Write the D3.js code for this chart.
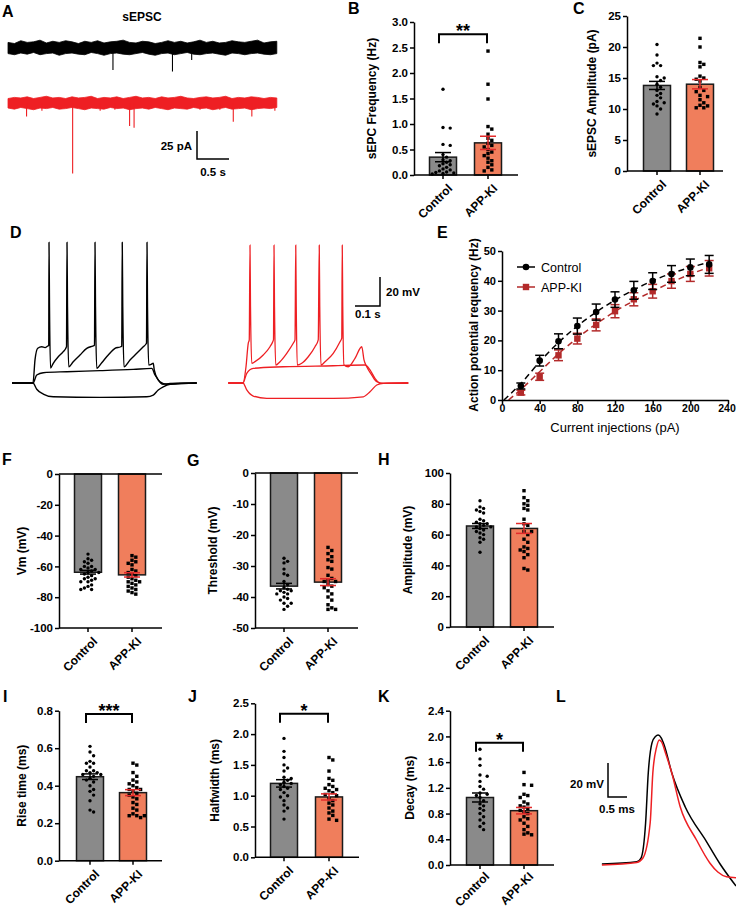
<!DOCTYPE html>
<html><head><meta charset="utf-8">
<script src="https://cdn.jsdelivr.net/npm/d3@7"></script>
<style>
body{margin:0;background:#fff}
svg{display:block}
text{font-family:"Liberation Sans",Arial,Helvetica,sans-serif}
</style>
</head><body>
<svg id="c" width="736" height="908"></svg>
<script>
// ---------------- DATA ----------------
const categories = ["Control", "APP-KI"];

// A: sEPSC traces (time s, current pA) - noise envelope and events
const traceTimes = [0,0.1,0.2,0.3,0.4,0.5,0.6,0.7,0.8,0.9,1.0,1.1,1.2,1.3,1.4,1.5,1.6,1.7,1.8,1.9,2.0,2.1,2.2,2.3,2.4,2.5,2.6,2.7,2.8,2.9,3.0,3.1,3.2,3.3,3.4,3.5,3.6,3.7,3.8,3.9,4.0,4.1,4.2];
const blackTop = [5,4,6.5,5,5.5,7,4.5,6,5,6.5, 5.5,4,6,5,6.5,4.5,5.5,6,7,5, 4.5,6,5.5,4,5,6.5,5,6,4.5,5.5, 7,5,6,4.5,5,6.5,5.5,5,6,7, 4.5,5.5,6];
const blackBot = [-5,-6,-4.5,-5.5,-4,-6,-5,-4.5,-6.5,-5, -4.5,-5.5,-6,-4,-5,-6.5,-5,-4.5,-5.5,-6, -5,-4,-5.5,-6.5,-5,-4.5,-6,-5,-4,-5.5, -6,-5,-4.5,-5.5,-6.5,-4.5,-5,-6,-5,-4.5, -5.5,-6,-5];
const redTop = [4,5,4.5,5.5,4,5,6,4.5,5,4, 5.5,4.5,5,6,4,5,4.5,5.5,4,5, 6,4.5,5,4,5.5,4.5,5,6,4.5,4, 5,5.5,4.5,5,6,4,5,4.5,5.5,5, 4,5,4.5];
const redBot = [-4.5,-5.5,-4,-5,-6,-4.5,-5,-4,-5.5,-5, -4,-5,-6,-4.5,-5,-5.5,-4,-5,-4.5,-6, -5,-4.5,-5.5,-4,-5,-6,-4.5,-5,-5.5,-4, -5,-4.5,-6,-5,-4,-5.5,-5,-4.5,-6,-5, -4.5,-5,-4];
const blackEventT = [1.64, 2.57, 2.87];
const blackEventA = [19.6, 21, 10.7];
const redEventT = [0.29,0.53,1.01,1.44,1.67,1.90,1.97,3.0,3.31,3.52,3.81,4.17];
const redEventA = [12,7,63,7,6,20.5,22,6,6,16.7,12,7];

// B: sEPSC frequency (Hz)
const freqCtrl = [1.68,0.93,0.92,0.60,0.58,0.40,0.35,0.30,0.28,0.25,0.22,0.20,0.18,0.15,0.12,0.10,0.08,0.06,0.05,0.04,0.03,0.02];
const freqApp  = [2.43,1.78,1.49,0.95,0.90,0.80,0.72,0.68,0.62,0.58,0.55,0.50,0.45,0.42,0.38,0.33,0.28,0.25,0.20,0.15,0.10,0.08];
const freqMean = [0.35, 0.63];
const freqSEM  = [0.09, 0.13];

// C: sEPSC amplitude (pA)
const ampCtrl = [20.4,18.7,17.4,17.0,17.0,15.2,15.0,14.6,14.0,13.5,13.0,12.5,12.2,11.8,11.2,11.0,10.8,10.5,10.0,9.2];
const ampApp  = [21.4,20.0,17.5,17.2,16.8,15.3,15.0,14.8,14.5,13.5,13.0,12.8,12.2,12.0,11.5,11.0,10.6,10.5,10.2,10.2];
const ampMean = [13.8, 14.0];
const ampSEM  = [0.65, 0.75];

// D: firing traces (time ms from step onset, mV)
const dBlackSupra = [[-84,-65],[0,-65],[8,-49],[19,-41],[35,-40],[48,-40.6],[59,-39.5],[63,-39],[64,32],[66,-12],[70,-54.7],[81,-51.4],[101,-46.9],[121,-43.4],[134,-40],[136,32],[138,-12],[143,-53.8],[161,-50.3],[188,-45.7],[215,-41.1],[239,-39.5],[246,-39],[248,32],[250,-12],[255,-54.9],[275,-51],[301,-45.7],[328,-41.1],[351,-40],[355,-39.5],[357,32],[359,-12],[364,-53.8],[388,-49.1],[415,-44.5],[441,-40],[452,-38.1],[454,-37.5],[456,32],[458,-12],[463,-52.6],[475,-51.9],[481,-51.4],[485,-56],[501,-62.9],[521,-65.9],[548,-65.3],[655,-65]];
const dBlackSub = [[-84,-65],[0,-65],[15,-59.5],[41,-57.9],[135,-57.2],[268,-56.5],[401,-55.6],[475,-54.9],[488,-59.5],[508,-64.1],[535,-65.9],[560,-65.5],[655,-65]];
const dBlackHyp = [[-84,-65],[0,-65],[15,-69.3],[41,-72.6],[81,-74.5],[268,-74.9],[455,-74.5],[481,-73.3],[501,-69.8],[521,-67.6],[548,-65.9],[655,-65]];
const dRedSupra = [[-59,-65],[0,-65],[12,-53.8],[21,-37.6],[25,-35.3],[28,30],[30,-12],[35,-51.4],[48,-50.3],[81,-45.7],[108,-40],[119,-36.5],[122,-35],[124,30],[126,-12],[131,-52.6],[148,-50.3],[175,-44.5],[201,-37.6],[208,-35.3],[211,30],[213,-12],[217,-52.6],[235,-51.4],[261,-46.9],[288,-40],[301,-35.3],[305,30],[307,-12],[312,-52.6],[328,-50.3],[361,-44.5],[388,-36.5],[395,-34],[397,30],[399,-12],[404,-52.6],[421,-53.8],[448,-48],[475,-40],[484,-49.1],[495,-53.8],[515,-59.5],[535,-64.1],[561,-65.2],[661,-65]];
const dRedSub = [[-59,-65],[0,-65],[15,-58.3],[41,-54.9],[161,-53.8],[361,-53.1],[488,-52.6],[508,-56],[528,-61.8],[548,-65.2],[661,-65]];
const dRedHyp = [[-59,-65],[0,-65],[15,-69.8],[41,-74],[95,-75.6],[361,-75.6],[481,-74.5],[508,-71],[535,-66.4],[561,-65.2],[661,-65]];

// E: action potential frequency vs current
const currents = [20,40,60,80,100,120,140,160,180,200,220];
const apfCtrl    = [4.7,13.2,19.7,24.8,29.5,33.7,36.8,39.9,42.3,44.5,45.5];
const apfCtrlSEM = [1.0,1.8,2.5,2.7,2.7,2.6,3.0,2.8,2.8,2.8,3.0];
const apfApp     = [2.5,7.8,15.0,20.6,25.2,29.8,33.8,36.5,39.9,42.3,44.2];
const apfAppSEM  = [0.8,1.2,1.8,1.8,2.0,2.2,2.2,2.3,2.4,2.5,2.6];
const fitCtrlX = [2,20,40,60,80,100,120,140,160,180,200,220];
const fitCtrlY = [0,5.5,12.8,19.3,24.8,29.5,33.5,37,40,42.5,44.5,46.2];
const fitAppX  = [7,20,40,60,80,100,120,140,160,180,200,220];
const fitAppY  = [0,3.5,9.5,15.5,20.8,25.5,29.7,33.3,36.5,39.5,42.2,44.5];

// F: Vm (mV)
const vmCtrl = [-52,-55,-56,-57,-58,-60,-60,-61,-62,-62,-63,-64,-64,-65,-66,-67,-68,-68,-69,-70,-70,-72,-73,-74,-75,-75];
const vmApp  = [-53,-54,-56,-57,-58,-59,-62,-63,-64,-65,-66,-67,-68,-69,-70,-70,-71,-72,-73,-74,-75,-76,-77,-78];
const vmMean = [-63.8, -65.5];
const vmSEM  = [1.2, 1.4];

// G: Threshold (mV)
const thrCtrl = [-27.5,-28.5,-29,-31,-32.5,-33,-35,-36,-37,-37.5,-38,-38,-38.5,-39,-39,-40,-40.5,-41,-42,-42,-43,-44];
const thrApp  = [-24,-25,-26,-27,-28,-28.5,-30.5,-31,-33,-34,-34.5,-35,-35,-36,-36.5,-37,-38,-39,-40,-41,-42.5,-43.5,-44,-44];
const thrMean = [-36.5, -35.2];
const thrSEM  = [0.9, 1.1];

// H: AP amplitude (mV)
const apAmpCtrl = [82,78,77,76,75,74,70,69,68,67,67,66,65,65,64,63,62,61,60,58,57,55,48.5];
const apAmpApp  = [88.5,84,82,80,79,77,76,70,67,66,62,62,60,57,55,52,51,50,49,47,45,38,37];
const apAmpMean = [65.6, 64.0];
const apAmpSEM  = [1.6, 3.2];

// I: Rise time (ms)
const riseCtrl = [0.61,0.58,0.56,0.53,0.52,0.52,0.50,0.48,0.48,0.47,0.47,0.46,0.46,0.45,0.44,0.43,0.42,0.40,0.38,0.37,0.35,0.32,0.27,0.26];
const riseApp  = [0.52,0.51,0.47,0.45,0.43,0.42,0.41,0.40,0.39,0.38,0.38,0.37,0.36,0.35,0.34,0.33,0.31,0.30,0.28,0.27,0.25,0.24,0.24,0.24,0.23];
const riseMean = [0.448, 0.363];
const riseSEM  = [0.015, 0.016];

// J: Halfwidth (ms)
const hwCtrl = [1.93,1.72,1.62,1.50,1.45,1.40,1.30,1.28,1.25,1.22,1.20,1.18,1.15,1.12,1.10,1.05,1.00,0.98,0.92,0.85,0.80,0.75,0.62];
const hwApp  = [1.62,1.58,1.40,1.28,1.25,1.18,1.15,1.12,1.10,1.08,1.05,1.02,1.00,0.95,0.92,0.88,0.85,0.80,0.75,0.72,0.68,0.62,0.60];
const hwMean = [1.20, 0.98];
const hwSEM  = [0.06, 0.05];

// K: Decay (ms)
const decCtrl = [1.80,1.65,1.55,1.40,1.38,1.30,1.22,1.18,1.12,1.10,1.08,1.05,1.00,0.95,0.92,0.88,0.85,0.80,0.75,0.70,0.65,0.60,0.55];
const decApp  = [1.44,1.25,1.24,1.10,1.08,1.05,0.98,0.95,0.92,0.90,0.88,0.85,0.82,0.80,0.75,0.72,0.70,0.65,0.60,0.55,0.50,0.48,0.47];
const decMean = [1.05, 0.845];
const decSEM  = [0.07, 0.05];

// L: single AP waveform (ms, mV)
const lBlack = [[0.05,-69.4],[0.97,-68.1],[1.08,-65.9],[1.20,-45.3],[1.27,-15.9],[1.37,2.0],[1.46,5.6],[1.53,6.4],[1.61,4.8],[1.69,0.5],[1.89,-15.9],[2.24,-35.7],[2.81,-56.5],[3.16,-69.4],[3.58,-82.4]];
const lRed   = [[0.05,-70],[0.97,-68.5],[1.13,-65.9],[1.32,-45.3],[1.39,-15.9],[1.49,-0.5],[1.56,3.6],[1.62,2.4],[1.73,-4.5],[1.89,-15.9],[2.11,-35.7],[2.54,-55.3],[2.89,-68.8],[3.1,-74.1],[3.33,-76.9],[3.58,-77.5]];

// ---------------- DRAWING ----------------
const CTRL_FILL = "#8a8a8a", APP_FILL = "#f07e5c", APP_ERR = "#e32b2b", E_RED = "#b32a2a", TRACE_RED = "#ee1f23";
const svg = d3.select("#c");
const fmtPlain = v => String(v);
const fmt1 = d3.format(".1f");
const fmtNeg = v => (v < 0 ? "-" + Math.abs(v) : String(v));

function panelLabel(t, x, y) {
  svg.append("text").attr("x", x).attr("y", y).attr("font-size", 16).attr("font-weight", "bold").text(t);
}
function styleAxis(a, fs) {
  a.attr("font-family", null).attr("font-size", null);
  a.select(".domain").attr("stroke", "#000").attr("stroke-width", 1.5);
  a.selectAll(".tick line").attr("stroke", "#000").attr("stroke-width", 1.5);
  a.selectAll(".tick text").attr("font-size", fs || 11.5).attr("font-weight", "bold").attr("fill", "#000");
}
function swarm(vals, y, cx, dmin, step) {
  const placed = [], out = new Array(vals.length);
  const order = vals.map((v, i) => i).sort((a, b) => vals[b] - vals[a]);
  for (const i of order) {
    const py = y(vals[i]);
    for (let k = 0; k < 60; k++) {
      const off = (k === 0 ? 0 : (k % 2 ? 1 : -1) * Math.ceil(k / 2)) * step;
      const px = cx + off;
      if (placed.every(p => Math.hypot(p[0] - px, p[1] - py) >= dmin)) { placed.push([px, py]); out[i] = [px, py]; break; }
    }
  }
  return out;
}

function barPanel(o) {
  const g = svg.append("g");
  const y = d3.scaleLinear().domain(o.domain).range([o.yBot, o.yTop]);
  const x = d3.scalePoint().domain(categories).range([o.c0, o.c1]);
  const bw = 27;
  const y0 = y(0), yLow = y(o.domain[0]);
  categories.forEach((c, i) => {
    const m = o.mean[i];
    g.append("rect").attr("x", x(c) - bw / 2).attr("width", bw)
      .attr("y", Math.min(y(m), y0)).attr("height", Math.abs(y(m) - y0))
      .attr("fill", i ? APP_FILL : CTRL_FILL).attr("stroke", "#1a1a1a").attr("stroke-width", 1.5);
  });
  const pc = swarm(o.ctrl, y, x(categories[0]), 3.9, 3.6);
  g.selectAll(".dc").data(pc).join("circle").attr("cx", d => d[0]).attr("cy", d => d[1]).attr("r", 1.7).attr("fill", "#000");
  const pa = swarm(o.app, y, x(categories[1]), 4.0, 3.8);
  g.selectAll(".da").data(pa).join("rect").attr("x", d => d[0] - 1.7).attr("y", d => d[1] - 1.7).attr("width", 3.4).attr("height", 3.4).attr("fill", "#000");
  categories.forEach((c, i) => {
    const m = o.mean[i], s = o.sem[i], cx = x(c), col = i ? APP_ERR : "#000";
    const e = g.append("g").attr("stroke", col).attr("stroke-width", 1.5);
    e.append("line").attr("x1", cx).attr("x2", cx).attr("y1", y(m - s)).attr("y2", y(m + s));
    [m - s, m + s].forEach(v => e.append("line").attr("x1", cx - 8).attr("x2", cx + 8).attr("y1", y(v)).attr("y2", y(v)));
  });
  const ay = g.append("g").attr("transform", `translate(${o.ax},0)`)
    .call(d3.axisLeft(y).tickValues(o.ticks).tickFormat(o.fmt).tickSize(4).tickSizeOuter(0).tickPadding(2));
  styleAxis(ay);
  g.append("line").attr("x1", o.ax).attr("x2", o.xEnd).attr("y1", y0).attr("y2", y0).attr("stroke", "#000").attr("stroke-width", 1.5);
  if (o.domain[0] < 0) g.append("line").attr("x1", o.ax).attr("x2", o.xEnd).attr("y1", yLow).attr("y2", yLow).attr("stroke", "#000").attr("stroke-width", 1.5);
  categories.forEach(c => g.append("line").attr("x1", x(c)).attr("x2", x(c)).attr("y1", yLow).attr("y2", yLow + 4).attr("stroke", "#000").attr("stroke-width", 1.5));
  const lo = o.labOff || 8;
  g.selectAll(".cl").data(categories).join("text")
    .attr("transform", d => `translate(${x(d) + 4},${yLow + lo}) rotate(-45)`)
    .attr("text-anchor", "end").attr("dy", "0.72em")
    .attr("font-size", 12).attr("font-weight", "bold").text(d => d);
  g.append("text").attr("transform", `translate(${o.titleX},${(o.yTop + o.yBot) / 2}) rotate(-90)`)
    .attr("text-anchor", "middle").attr("font-size", 12).attr("font-weight", "bold").text(o.title);
  if (o.sig) {
    const x0 = x(categories[0]) - 4, x1 = x(categories[1]) - 1, yb = y(o.sig.at), drop = 9;
    g.append("path").attr("d", `M${x0},${yb + drop}V${yb}H${x1}V${yb + drop}`).attr("fill", "none").attr("stroke", "#000").attr("stroke-width", 2);
    g.append("text").attr("x", (x0 + x1) / 2).attr("y", yb + 3).attr("text-anchor", "middle").attr("font-size", 18).attr("font-weight", "bold").text(o.sig.text);
  }
}

// ---- Panel A ----
panelLabel("A", 2, 17);
svg.append("text").attr("x", 142).attr("y", 21).attr("text-anchor", "middle").attr("font-size", 12).attr("font-weight", "bold").text("sEPSC");
const xA = d3.scaleLinear().domain([0, 0.5]).range([8, 40]);
function drawSepsc(top, bot, evT, evA, base, col) {
  const yA = d3.scaleLinear().domain([0, 25]).range([base, base - 28]);
  const area = d3.area().x((d, i) => xA(traceTimes[i])).y0((d, i) => yA(bot[i])).y1(d => yA(d));
  svg.append("path").datum(top).attr("d", area).attr("fill", col).attr("stroke", col).attr("stroke-width", 0.8).attr("stroke-linejoin", "miter");
  evT.forEach((t, i) => svg.append("line").attr("x1", xA(t)).attr("x2", xA(t)).attr("y1", yA(0)).attr("y2", yA(-evA[i]))
    .attr("stroke", col).attr("stroke-width", 1.1));
  return yA;
}
const yAb = drawSepsc(blackTop, blackBot, blackEventT, blackEventA, 48, "#000");
drawSepsc(redTop, redBot, redEventT, redEventA, 103, TRACE_RED);
{
  const sx = 197, sy = 159;
  svg.append("path").attr("d", `M${sx},${sy - (yAb(0) - yAb(25))}V${sy}H${sx + xA(0.5) - xA(0)}`).attr("fill", "none").attr("stroke", "#000").attr("stroke-width", 1.5);
  svg.append("text").attr("x", 192).attr("y", 150).attr("text-anchor", "end").attr("font-size", 11.5).attr("font-weight", "bold").text("25 pA");
  svg.append("text").attr("x", 213).attr("y", 176).attr("text-anchor", "middle").attr("font-size", 11.5).attr("font-weight", "bold").text("0.5 s");
}

// ---- Panel B ----
panelLabel("B", 348, 14);
barPanel({domain: [0, 3], yBot: 175, yTop: 22, ax: 414, xEnd: 518, c0: 443, c1: 488,
  ticks: [0, 0.5, 1, 1.5, 2, 2.5, 3], fmt: fmt1, ctrl: freqCtrl, app: freqApp, mean: freqMean, sem: freqSEM,
  title: "sEPC Frequency (Hz)", titleX: 376, sig: {at: 2.76, text: "**"}});

// ---- Panel C ----
panelLabel("C", 573, 14);
barPanel({domain: [0, 25], yBot: 171, yTop: 16, ax: 627, xEnd: 723, c0: 657, c1: 700,
  ticks: [0, 5, 10, 15, 20, 25], fmt: fmtPlain, ctrl: ampCtrl, app: ampApp, mean: ampMean, sem: ampSEM,
  title: "sEPSC Amplitude (pA)", titleX: 596});

// ---- Panel D ----
panelLabel("D", 10, 238);
{
  const xDk = d3.scaleLinear().domain([0, 100]).range([33, 58]);
  const xDr = d3.scaleLinear().domain([0, 100]).range([243, 268]);
  const yD = d3.scaleLinear().domain([-65, -45]).range([383, 354]);
  const lk = d3.line().x(d => xDk(d[0])).y(d => yD(d[1])).curve(d3.curveMonotoneX);
  const lr = d3.line().x(d => xDr(d[0])).y(d => yD(d[1])).curve(d3.curveMonotoneX);
  [dBlackHyp, dBlackSub, dBlackSupra].forEach(tr => svg.append("path").attr("d", lk(tr)).attr("fill", "none").attr("stroke", "#000").attr("stroke-width", 1.4));
  [dRedHyp, dRedSub, dRedSupra].forEach(tr => svg.append("path").attr("d", lr(tr)).attr("fill", "none").attr("stroke", TRACE_RED).attr("stroke-width", 1.3));
  const sx = 380, sy = 306;
  svg.append("path").attr("d", `M${sx},${sy - (yD(-65) - yD(-45))}V${sy}H${sx - (xDr(100) - xDr(0))}`).attr("fill", "none").attr("stroke", "#000").attr("stroke-width", 1.5);
  svg.append("text").attr("x", 386).attr("y", 296).attr("font-size", 11.5).attr("font-weight", "bold").text("20 mV");
  svg.append("text").attr("x", 355).attr("y", 318).attr("font-size", 11.5).attr("font-weight", "bold").text("0.1 s");
}

// ---- Panel E ----
panelLabel("E", 437, 238);
{
  const xE = d3.scaleLinear().domain([0, 240]).range([502, 728]);
  const yE = d3.scaleLinear().domain([0, 50]).range([400, 251]);
  const g = svg.append("g");
  const fl = d3.line().x(d => xE(d[0])).y(d => yE(d[1])).curve(d3.curveMonotoneX);
  g.append("path").attr("d", fl(fitCtrlX.map((v, i) => [v, fitCtrlY[i]]))).attr("fill", "none").attr("stroke", "#000").attr("stroke-width", 1.5).attr("stroke-dasharray", "6,4");
  g.append("path").attr("d", fl(fitAppX.map((v, i) => [v, fitAppY[i]]))).attr("fill", "none").attr("stroke", E_RED).attr("stroke-width", 1.5).attr("stroke-dasharray", "6,4");
  function series(vals, sem, col, shape) {
    currents.forEach((c, i) => {
      const cx = xE(c), e = g.append("g").attr("stroke", col).attr("stroke-width", 1.5);
      e.append("line").attr("x1", cx).attr("x2", cx).attr("y1", yE(vals[i] - sem[i])).attr("y2", yE(vals[i] + sem[i]));
      [vals[i] - sem[i], vals[i] + sem[i]].forEach(v => e.append("line").attr("x1", cx - 4.5).attr("x2", cx + 4.5).attr("y1", yE(v)).attr("y2", yE(v)));
      if (shape === "c") g.append("circle").attr("cx", cx).attr("cy", yE(vals[i])).attr("r", 3.3).attr("fill", col);
      else g.append("rect").attr("x", cx - 3.2).attr("y", yE(vals[i]) - 3.2).attr("width", 6.4).attr("height", 6.4).attr("fill", col);
    });
  }
  series(apfApp, apfAppSEM, E_RED, "s");
  series(apfCtrl, apfCtrlSEM, "#000", "c");
  const ay = g.append("g").attr("transform", "translate(502,0)").call(d3.axisLeft(yE).tickValues([0, 10, 20, 30, 40, 50]).tickSize(4).tickSizeOuter(0).tickPadding(2));
  styleAxis(ay, 11);
  const ax = g.append("g").attr("transform", "translate(0,400)").call(d3.axisBottom(xE).tickValues([0, 40, 80, 120, 160, 200, 240]).tickSize(4).tickSizeOuter(0).tickPadding(1));
  styleAxis(ax, 10.5);
  ax.selectAll(".tick text").filter(d => d === 240).attr("dx", -1.5);
  g.append("text").attr("x", 615).attr("y", 432).attr("text-anchor", "middle").attr("font-size", 13).text("Current injections (pA)");
  g.append("text").attr("transform", "translate(478,325) rotate(-90)").attr("text-anchor", "middle").attr("font-size", 12).attr("font-weight", "bold").text("Action potential requency (Hz)");
  const lg = g.append("g");
  lg.append("line").attr("x1", 517).attr("x2", 535).attr("y1", 267).attr("y2", 267).attr("stroke", "#000").attr("stroke-width", 1.5);
  lg.append("circle").attr("cx", 526).attr("cy", 267).attr("r", 3.3).attr("fill", "#000");
  lg.append("text").attr("x", 541).attr("y", 271.5).attr("font-size", 12.5).text(categories[0]);
  lg.append("line").attr("x1", 517).attr("x2", 535).attr("y1", 287).attr("y2", 287).attr("stroke", E_RED).attr("stroke-width", 1.5);
  lg.append("rect").attr("x", 522.8).attr("y", 283.8).attr("width", 6.4).attr("height", 6.4).attr("fill", E_RED);
  lg.append("text").attr("x", 541).attr("y", 291.5).attr("font-size", 12.5).text(categories[1]);
}

// ---- Panels F, G, H ----
panelLabel("F", 2, 465);
barPanel({domain: [-100, 0], yBot: 628, yTop: 474, ax: 59, xEnd: 162, c0: 88, c1: 132,
  ticks: [-100, -80, -60, -40, -20, 0], fmt: fmtNeg, ctrl: vmCtrl, app: vmApp, mean: vmMean, sem: vmSEM,
  title: "Vm (mV)", titleX: 26});
panelLabel("G", 187, 466);
barPanel({domain: [-50, 0], yBot: 628, yTop: 473, ax: 255, xEnd: 358, c0: 284, c1: 328,
  ticks: [-50, -40, -30, -20, -10, 0], fmt: fmtNeg, ctrl: thrCtrl, app: thrApp, mean: thrMean, sem: thrSEM,
  title: "Threshold (mV)", titleX: 217});
panelLabel("H", 378, 465);
barPanel({domain: [0, 100], yBot: 627, yTop: 473, ax: 450, xEnd: 554, c0: 480, c1: 524,
  ticks: [0, 20, 40, 60, 80, 100], fmt: fmtPlain, ctrl: apAmpCtrl, app: apAmpApp, mean: apAmpMean, sem: apAmpSEM,
  title: "Amplitude (mV)", titleX: 412});

// ---- Panels I, J, K ----
panelLabel("I", 3, 702);
barPanel({domain: [0, 0.8], yBot: 860.7, yTop: 710.7, ax: 59, xEnd: 162, c0: 90, c1: 133,
  ticks: [0, 0.2, 0.4, 0.6, 0.8], fmt: fmt1, ctrl: riseCtrl, app: riseApp, mean: riseMean, sem: riseSEM,
  title: "Rise time (ms)", titleX: 26, sig: {at: 0.782, text: "***"}});
panelLabel("J", 188, 702);
barPanel({domain: [0, 2.5], yBot: 857.3, yTop: 703.3, ax: 255, xEnd: 359, c0: 284, c1: 329,
  ticks: [0, 0.5, 1, 1.5, 2, 2.5], fmt: fmt1, ctrl: hwCtrl, app: hwApp, mean: hwMean, sem: hwSEM,
  title: "Halfwidth (ms)", titleX: 219, sig: {at: 2.33, text: "*"}});
panelLabel("K", 378, 702);
barPanel({domain: [0, 2.4], yBot: 865, yTop: 710.7, ax: 450, xEnd: 554, c0: 480, c1: 524,
  ticks: [0, 0.4, 0.8, 1.2, 1.6, 2.0, 2.4], fmt: fmt1, ctrl: decCtrl, app: decApp, mean: decMean, sem: decSEM,
  title: "Decay (ms)", titleX: 414, sig: {at: 1.90, text: "*"}, labOff: 6});

// ---- Panel L ----
panelLabel("L", 556, 702);
{
  const xL = d3.scaleLinear().domain([0, 1]).range([600, 638]);
  const yL = d3.scaleLinear().domain([-70, -50]).range([865, 831]);
  const ll = d3.line().x(d => xL(d[0])).y(d => yL(d[1])).curve(d3.curveMonotoneX);
  svg.append("path").attr("d", ll(lBlack)).attr("fill", "none").attr("stroke", "#000").attr("stroke-width", 1.5);
  svg.append("path").attr("d", ll(lRed)).attr("fill", "none").attr("stroke", TRACE_RED).attr("stroke-width", 1.5);
  const sx = 608, sy = 797;
  svg.append("path").attr("d", `M${sx},${sy - (yL(-70) - yL(-50))}V${sy}H${sx + xL(0.5) - xL(0)}`).attr("fill", "none").attr("stroke", "#000").attr("stroke-width", 1.5);
  svg.append("text").attr("x", 604).attr("y", 788).attr("text-anchor", "end").attr("font-size", 11.5).attr("font-weight", "bold").text("20 mV");
  svg.append("text").attr("x", 599).attr("y", 813).attr("font-size", 11.5).attr("font-weight", "bold").text("0.5 ms");
}
</script>
</body></html>
